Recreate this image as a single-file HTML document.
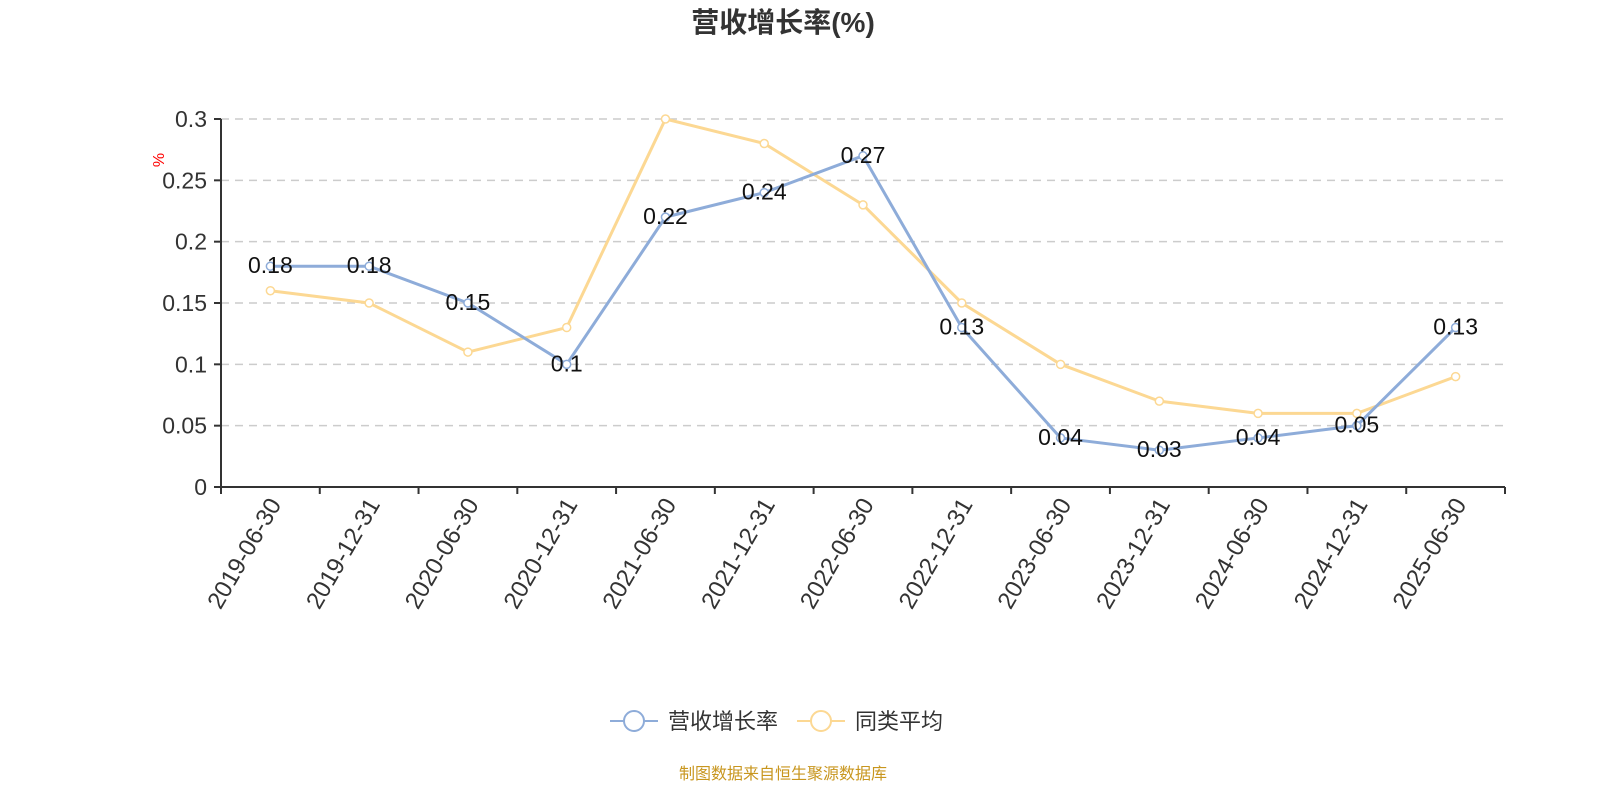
<!DOCTYPE html>
<html><head><meta charset="utf-8">
<style>
body{margin:0;background:#fff;}
svg{display:block;font-family:"Liberation Sans","Noto Sans CJK SC",sans-serif;}
</style></head>
<body>
<svg id="chart" width="1600" height="800">
<text x="783" y="32" text-anchor="middle" font-size="28" font-weight="bold" fill="#333">营收增长率(%)</text>
<text x="160" y="160" font-size="16" fill="red" transform="rotate(-90 160 160)" text-anchor="middle" dominant-baseline="middle">%</text>
<g id="grid"></g><g id="axes"></g><g id="series"></g><g id="labels"></g>
<g>
<g>
<line x1="610" y1="721" x2="658" y2="721" stroke="#8eacd9" stroke-width="2"/>
<circle cx="634" cy="721" r="10" fill="#fff" stroke="#8eacd9" stroke-width="2"/>
<text x="668" y="729" font-size="22" fill="#333">营收增长率</text></g>
<g>
<line x1="797" y1="721" x2="845" y2="721" stroke="#fcd893" stroke-width="2"/>
<circle cx="821" cy="721" r="10" fill="#fff" stroke="#fcd893" stroke-width="2"/>
<text x="855" y="729" font-size="22" fill="#333">同类平均</text></g>
</g>
<text x="783" y="779" text-anchor="middle" font-size="16" fill="#c8961e">制图数据来自恒生聚源数据库</text>
</svg>
<script>
const categories=["2019-06-30","2019-12-31","2020-06-30","2020-12-31","2021-06-30","2021-12-31","2022-06-30","2022-12-31","2023-06-30","2023-12-31","2024-06-30","2024-12-31","2025-06-30"];
const revenueGrowth=[0.18,0.18,0.15,0.1,0.22,0.24,0.27,0.13,0.04,0.03,0.04,0.05,0.13];
const peerAverage=[0.16,0.15,0.11,0.13,0.30,0.28,0.23,0.15,0.10,0.07,0.06,0.06,0.09];
const yTicks=[0,0.05,0.1,0.15,0.2,0.25,0.3];
const yTickLabels=["0","0.05","0.1","0.15","0.2","0.25","0.3"];
const NS="http://www.w3.org/2000/svg";
const X0=221,X1=1505,Y0=487,Y1=119,YMAX=0.3;
const step=(X1-X0)/categories.length;
const xs=i=>X0+step*(i+0.5);
const ys=v=>Y0-(v/YMAX)*(Y0-Y1);
function mk(tag,attrs,parent){const e=document.createElementNS(NS,tag);for(const k in attrs)e.setAttribute(k,attrs[k]);parent.appendChild(e);return e;}
const grid=document.getElementById('grid'),axes=document.getElementById('axes'),series=document.getElementById('series'),labels=document.getElementById('labels');
yTicks.forEach((t,i)=>{
 const y=ys(t);
 if(t>0){const g=mk('line',{x1:X0,x2:X1,y1:y,y2:y,stroke:'#ccc','stroke-width':1.5,'stroke-dasharray':'8,6'},grid);
 
 }
 mk('line',{x1:X0-7,x2:X0,y1:y,y2:y,stroke:'#333','stroke-width':2},axes);
 const tx=mk('text',{x:X0-14,y:y+8,'text-anchor':'end','font-size':23,fill:'#333'},axes);
 tx.textContent=yTickLabels[i];
 
 
});
const ya=mk('line',{x1:X0,x2:X0,y1:Y1,y2:Y0,stroke:'#333','stroke-width':2},axes);


const xa=mk('line',{x1:X0,x2:X1,y1:Y0,y2:Y0,stroke:'#333','stroke-width':2},axes);


for(let i=0;i<=categories.length;i++){const x=X0+step*i;mk('line',{x1:x,x2:x,y1:Y0,y2:Y0+7,stroke:'#333','stroke-width':2},axes);}
categories.forEach((c,i)=>{
 const x=xs(i)+6,y=Y0+14;
 const t=mk('text',{x:x,y:y,'text-anchor':'end','font-size':24,fill:'#333',transform:`rotate(-60 ${x} ${y})`,'dominant-baseline':'middle'},axes);
 t.textContent=c;
 
 
});
function drawSeries(vals,color,name,showLabels){
 const pts=vals.map((v,i)=>xs(i)+','+ys(v)).join(' ');
 const pl=mk('polyline',{points:pts,fill:'none',stroke:color,'stroke-width':3,'stroke-linejoin':'round'},series);
 
 
 vals.forEach((v,i)=>{
  const c=mk('circle',{cx:xs(i),cy:ys(v),r:4,fill:'#fff',stroke:color,'stroke-width':1.5},series);
  
  
  if(showLabels){
   const t=mk('text',{x:xs(i),y:ys(v)+7,'text-anchor':'middle','font-size':23,fill:'#111'},labels);
   t.textContent=String(v);
   
   
  }
 });
}
drawSeries(peerAverage,'#fcd893','peer-average',false);
drawSeries(revenueGrowth,'#8eacd9','revenue-growth',true);
</script>
</body></html>
